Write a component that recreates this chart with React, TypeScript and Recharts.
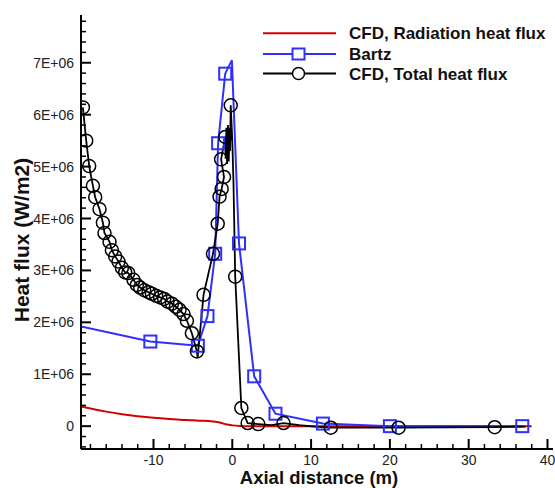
import React from 'react';
import { LineChart, Line, XAxis, YAxis, Legend } from 'recharts';

// ---- Data (heat flux in units of 1E+06 W/m2) ----
const radX = [-19.2, -18, -16, -14, -12, -10, -8, -6.6, -5, -4, -3, -2.4, -1.5, -0.7, 0, 1, 1.5, 2, 5, 10, 20, 30, 38];
const radY = [0.38, 0.34, 0.28, 0.23, 0.19, 0.16, 0.14, 0.125, 0.115, 0.105, 0.1, 0.09, 0.065, 0.03, 0.015, 0.003, 0, 0, 0, 0, 0, 0, 0];

const bartzX = [-19.2, -10.4, -4.37, -3.15, -2.17, -1.8, -0.9, -0.05, 0.85, 2.78, 5.48, 11.5, 20.0, 36.8];
const bartzY = [1.92, 1.63, 1.55, 2.12, 3.32, 5.45, 6.79, 7.05, 3.52, 0.96, 0.24, 0.05, 0.0, 0.0];
const bartzMark = [0, 1, 1, 1, 1, 1, 1, 0, 1, 1, 1, 1, 1, 1];

const totX = [
  -18.96, -18.54, -18.16, -17.69, -17.4, -16.85, -16.42, -16.22, -15.58, -15.28,
  -14.86, -14.44, -14.01, -13.59, -13.2, -12.54, -12.11, -11.69, -11.18, -10.63,
  -10.2, -9.66, -9.15, -8.64, -8.22, -7.66, -7.16, -6.7, -6.19, -5.76,
  -5.13, -4.49, -4.4, -3.65, -2.45, -1.85, -1.62, -1.35, -1.05, -1.42,
  -0.9, -0.85, -0.75, -0.65, -0.55, -0.45, -0.35, -0.28, -0.2, 0.0,
  0.15, 0.37, 1.15, 1.95, 3.3, 5.0, 6.5, 8.5, 10.5, 12.5,
  21.1, 33.3, 37.2,
];
const totY = [
  6.14, 5.5, 5.01, 4.63, 4.41, 4.18, 3.92, 3.72, 3.55, 3.39,
  3.27, 3.17, 3.05, 2.96, 2.95, 2.82, 2.72, 2.67, 2.62, 2.58,
  2.55, 2.51, 2.48, 2.45, 2.4, 2.36, 2.3, 2.24, 2.16, 2.03,
  1.79, 1.44, 1.32, 2.53, 3.32, 3.9, 4.42, 4.57, 4.8, 5.14,
  5.57, 5.15, 5.75, 5.05, 5.8, 5.1, 5.75, 5.3, 6.18, 5.5,
  4.7, 2.88, 0.35, 0.06, 0.04, 0.02, 0.06, 0.02, -0.01, -0.03,
  -0.03, -0.02, -0.01,
];
const totMark = [
  1, 1, 1, 1, 1, 1, 1, 1, 1, 1,
  1, 1, 1, 1, 1, 1, 1, 1, 1, 1,
  1, 1, 1, 1, 1, 1, 1, 1, 1, 1,
  1, 1, 0, 1, 1, 1, 1, 1, 1, 1,
  1, 0, 0, 0, 0, 0, 0, 0, 1, 0,
  0, 1, 1, 1, 1, 0, 1, 0, 0, 1,
  1, 1, 0,
];

const xLabelValues = [-10, 0, 10, 20, 30, 40];
const yLabelValues = [0, 1, 2, 3, 4, 5, 6, 7];
const xMinorTicks = Array.from({ length: 30 }, (_, i) => -18 + i * 2);
const yMinorTicks = Array.from({ length: 42 }, (_, i) => Math.round((-0.4 + i * 0.2) * 10) / 10);

const legendNames = ['CFD, Radiation heat flux', 'Bartz', 'CFD, Total heat flux'];

const radData = radX.map((x, i) => ({ x, y: radY[i] }));
const bartzData = bartzX.map((x, i) => ({ x, y: bartzY[i], m: bartzMark[i] }));
const totData = totX.map((x, i) => ({ x, y: totY[i], m: totMark[i] }));

const FONT = '"Liberation Sans", Arial, Helvetica, sans-serif';
const RED = '#d20000';
const BLUE = '#2f2fff';

const isMajor = (v: number, list: number[]) => list.some((l) => Math.abs(l - v) < 1e-6);

const XTick = (props: any) => {
  const { x, y, payload } = props;
  const v = payload.value;
  const major = isMajor(v, xLabelValues);
  return (
    <g>
      <line x1={x} x2={x} y1={y} y2={y - (major ? 10 : 5)} stroke="#000" strokeWidth={major ? 2 : 1.5} />
      {major && (
        <text x={x} y={y + 15.5} textAnchor="middle" fontSize={14} fill="#222" fontFamily={FONT}>
          {v}
        </text>
      )}
    </g>
  );
};

const YTick = (props: any) => {
  const { x, y, payload } = props;
  const v = payload.value;
  const major = isMajor(v, yLabelValues);
  return (
    <g>
      <line x1={x} x2={x + (major ? 10 : 5)} y1={y} y2={y} stroke="#000" strokeWidth={major ? 2 : 1.5} />
      {major && (
        <text x={x - 7} y={y + 5} textAnchor="end" fontSize={14} fill="#222" fontFamily={FONT}>
          {v === 0 ? '0' : `${Math.round(v)}E+06`}
        </text>
      )}
    </g>
  );
};

const SquareDot = (props: any) => {
  const { cx, cy, payload, index } = props;
  if (!payload || !payload.m || cx == null || cy == null) return <g key={`sq-${index}`} />;
  return <rect key={`sq-${index}`} x={cx - 6} y={cy - 6} width={12} height={12} fill="none" stroke={BLUE} strokeWidth={2} />;
};

const CircleDot = (props: any) => {
  const { cx, cy, payload, index } = props;
  if (!payload || !payload.m || cx == null || cy == null) return <g key={`ci-${index}`} />;
  return <circle key={`ci-${index}`} cx={cx} cy={cy} r={6.5} fill="none" stroke="#000" strokeWidth={1.5} />;
};

const LegendContent = () => {
  const rows = [33.3, 54, 73.5];
  return (
    <svg width={555} height={90} style={{ position: 'absolute', left: 0, top: 0, overflow: 'visible' }}>
      <line x1={263} x2={336} y1={rows[0]} y2={rows[0]} stroke={RED} strokeWidth={2} />
      <line x1={263} x2={336} y1={rows[1]} y2={rows[1]} stroke={BLUE} strokeWidth={2} />
      <rect x={292.5} y={rows[1] - 5.5} width={12} height={11} fill="#fff" stroke={BLUE} strokeWidth={2} />
      <line x1={263} x2={336} y1={rows[2]} y2={rows[2]} stroke="#000" strokeWidth={2} />
      <circle cx={298.5} cy={rows[2]} r={6} fill="#fff" stroke="#000" strokeWidth={1.5} />
      {legendNames.map((n, i) => (
        <text key={n} x={349} y={rows[i] + 6} fontSize={17} fontWeight="bold" fill="#111" fontFamily={FONT}>
          {n}
        </text>
      ))}
    </svg>
  );
};

export default function App() {
  return (
    <div style={{ position: 'absolute', left: 0, top: 0, width: 555, height: 488, background: '#fff', overflow: 'hidden' }}>
      <LineChart width={555} height={488} margin={{ top: 15, right: 2, bottom: 0, left: 0 }}>
        <XAxis
          type="number"
          dataKey="x"
          domain={[-19.2, 40.7]}
          allowDataOverflow
          ticks={xMinorTicks}
          interval={0}
          tick={<XTick />}
          tickLine={false}
          tickSize={0}
          tickMargin={0}
          height={39}
          axisLine={{ stroke: '#000', strokeWidth: 2 }}
          label={{
            content: () => (
              <text x={319} y={484} textAnchor="middle" fontSize={18.5} fontWeight="bold" fill="#111" fontFamily={FONT}>
                Axial distance (m)
              </text>
            ),
          }}
        />
        <XAxis
          xAxisId="top"
          orientation="top"
          type="number"
          dataKey="x"
          domain={[-19.2, 40.7]}
          allowDataOverflow
          height={0}
          tick={false}
          tickLine={false}
          axisLine={{ stroke: '#000', strokeWidth: 2.5 }}
        />
        <YAxis
          type="number"
          domain={[-0.44, 7.92]}
          allowDataOverflow
          ticks={yMinorTicks}
          interval={0}
          tick={<YTick />}
          tickLine={false}
          tickSize={0}
          tickMargin={0}
          width={81}
          axisLine={{ stroke: '#000', strokeWidth: 2 }}
          label={{
            content: () => (
              <text
                x={29}
                y={240}
                transform="rotate(-90 29 240)"
                textAnchor="middle"
                fontSize={21}
                fontWeight="bold"
                fill="#111"
                fontFamily={FONT}
              >
                Heat flux (W/m2)
              </text>
            ),
          }}
        />
        <YAxis
          yAxisId="right"
          orientation="right"
          type="number"
          domain={[0, 1]}
          width={0}
          tick={false}
          tickLine={false}
          axisLine={{ stroke: '#bbb', strokeWidth: 1 }}
        />
        <Line
          data={radData}
          dataKey="y"
          type="monotone"
          stroke={RED}
          strokeWidth={2}
          dot={false}
          activeDot={false}
          isAnimationActive={false}
          name={legendNames[0]}
        />
        <Line
          data={bartzData}
          dataKey="y"
          type="linear"
          stroke={BLUE}
          strokeWidth={2}
          dot={SquareDot}
          activeDot={false}
          isAnimationActive={false}
          name={legendNames[1]}
        />
        <Line
          data={totData}
          dataKey="y"
          type="linear"
          stroke="#000"
          strokeWidth={1.8}
          dot={CircleDot}
          activeDot={false}
          isAnimationActive={false}
          name={legendNames[2]}
        />
        <Legend
          layout="vertical"
          align="center"
          verticalAlign="middle"
          wrapperStyle={{ left: 0, top: 0, width: 555, height: 90, pointerEvents: 'none' }}
          content={LegendContent}
        />
      </LineChart>
    </div>
  );
}
